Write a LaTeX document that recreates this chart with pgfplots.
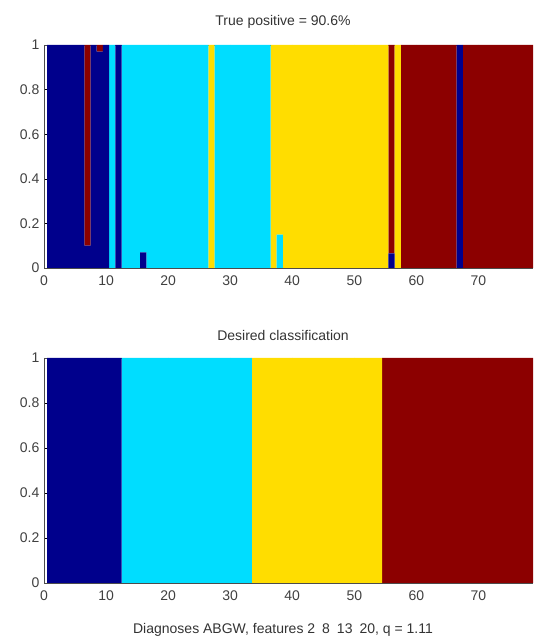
\documentclass[border=0pt]{standalone}
\usepackage{fontspec}
\setmainfont{Liberation Sans}
\usepackage{pgfplots}
\usepackage{pgfplotstable}
\pgfplotsset{compat=1.18}

\definecolor{jblue}{HTML}{00008C}
\definecolor{jcyan}{HTML}{00DDFF}
\definecolor{jyellow}{HTML}{FFDD00}
\definecolor{jred}{HTML}{8C0000}

% memberships per sample: blue, cyan, yellow, red
\pgfplotstableread{
x  b     c     y     r
1  1     0     0     0
2  1     0     0     0
3  1     0     0     0
4  1     0     0     0
5  1     0     0     0
6  1     0     0     0
7  0.1   0     0     0.9
8  1     0     0     0
9  0.97  0     0     0.03
10 1     0     0     0
11 0     1     0     0
12 1     0     0     0
13 0     1     0     0
14 0     1     0     0
15 0     1     0     0
16 0.07  0.93  0     0
17 0     1     0     0
18 0     1     0     0
19 0     1     0     0
20 0     1     0     0
21 0     1     0     0
22 0     1     0     0
23 0     1     0     0
24 0     1     0     0
25 0     1     0     0
26 0     1     0     0
27 0     0     1     0
28 0     1     0     0
29 0     1     0     0
30 0     1     0     0
31 0     1     0     0
32 0     1     0     0
33 0     1     0     0
34 0     1     0     0
35 0     1     0     0
36 0     1     0     0
37 0     0     1     0
38 0     0.15  0.85  0
39 0     0     1     0
40 0     0     1     0
41 0     0     1     0
42 0     0     1     0
43 0     0     1     0
44 0     0     1     0
45 0     0     1     0
46 0     0     1     0
47 0     0     1     0
48 0     0     1     0
49 0     0     1     0
50 0     0     1     0
51 0     0     1     0
52 0     0     1     0
53 0     0     1     0
54 0     0     1     0
55 0     0     1     0
56 0.065 0     0     0.935
57 0     0     1     0
58 0     0     0     1
59 0     0     0     1
60 0     0     0     1
61 0     0     0     1
62 0     0     0     1
63 0     0     0     1
64 0     0     0     1
65 0     0     0     1
66 0     0     0     1
67 1     0     0     0
68 0     0     0     1
69 0     0     0     1
70 0     0     0     1
71 0     0     0     1
72 0     0     0     1
73 0     0     0     1
74 0     0     0     1
75 0     0     0     1
76 0     0     0     1
77 0     0     0     1
78 0     0     0     1
79 0     0     0     1
80 0     0     0     1
}\predicted

% desired classes: blue 1-12, cyan 13-33, yellow 34-54, red 55-80
\pgfplotstableread{
x  b  c  y  r
1  1  0  0  0
2  1  0  0  0
3  1  0  0  0
4  1  0  0  0
5  1  0  0  0
6  1  0  0  0
7  1  0  0  0
8  1  0  0  0
9  1  0  0  0
10 1  0  0  0
11 1  0  0  0
12 1  0  0  0
13 0  1  0  0
14 0  1  0  0
15 0  1  0  0
16 0  1  0  0
17 0  1  0  0
18 0  1  0  0
19 0  1  0  0
20 0  1  0  0
21 0  1  0  0
22 0  1  0  0
23 0  1  0  0
24 0  1  0  0
25 0  1  0  0
26 0  1  0  0
27 0  1  0  0
28 0  1  0  0
29 0  1  0  0
30 0  1  0  0
31 0  1  0  0
32 0  1  0  0
33 0  1  0  0
34 0  0  1  0
35 0  0  1  0
36 0  0  1  0
37 0  0  1  0
38 0  0  1  0
39 0  0  1  0
40 0  0  1  0
41 0  0  1  0
42 0  0  1  0
43 0  0  1  0
44 0  0  1  0
45 0  0  1  0
46 0  0  1  0
47 0  0  1  0
48 0  0  1  0
49 0  0  1  0
50 0  0  1  0
51 0  0  1  0
52 0  0  1  0
53 0  0  1  0
54 0  0  1  0
55 0  0  0  1
56 0  0  0  1
57 0  0  0  1
58 0  0  0  1
59 0  0  0  1
60 0  0  0  1
61 0  0  0  1
62 0  0  0  1
63 0  0  0  1
64 0  0  0  1
65 0  0  0  1
66 0  0  0  1
67 0  0  0  1
68 0  0  0  1
69 0  0  0  1
70 0  0  0  1
71 0  0  0  1
72 0  0  0  1
73 0  0  0  1
74 0  0  0  1
75 0  0  0  1
76 0  0  0  1
77 0  0  0  1
78 0  0  0  1
79 0  0  0  1
80 0  0  0  1
}\desired

\pgfplotsset{
  classbars/.style={
    scale only axis,
    width=366.75pt,
    xmin=0, xmax=78.8,
    ymin=0, ymax=1,
    axis x line*=box,
    axis y line*=left,
    ybar stacked,
    bar width=1,
    xtick={0,10,...,70},
    ytick={0,0.2,0.4,0.6,0.8,1},
    tick align=inside,
    major tick length=3pt,
    tick style={black, thin},
    axis line style={black!70},
    ticklabel style={font=\fontsize{10.5}{12}\selectfont, text=black!75},
    xticklabel style={yshift=-2pt},
    /pgf/number format/assume math mode=true,
    clip=true,
  },
}

\begin{document}
\begin{tikzpicture}
\useasboundingbox (0,0) rectangle (399.75pt,479.25pt);

\begin{axis}[classbars, height=167.25pt, at={(33pt,278.25pt)}, anchor=south west]
\addplot[draw=none, fill=jblue] table[x=x, y=b] {\predicted};
\addplot[draw=none, fill=jcyan] table[x=x, y=c] {\predicted};
\addplot[draw=none, fill=jyellow] table[x=x, y=y] {\predicted};
\addplot[draw=none, fill=jred] table[x=x, y=r] {\predicted};
\end{axis}

\begin{axis}[classbars, height=168.75pt, at={(33pt,42pt)}, anchor=south west]
\addplot[draw=none, fill=jblue] table[x=x, y=b] {\desired};
\addplot[draw=none, fill=jcyan] table[x=x, y=c] {\desired};
\addplot[draw=none, fill=jyellow] table[x=x, y=y] {\desired};
\addplot[draw=none, fill=jred] table[x=x, y=r] {\desired};
\end{axis}

\node[font=\fontsize{10.5}{12}\selectfont, text=black!80] at (212.25pt,463pt) {True positive = 90.6\%};
\node[font=\fontsize{10.5}{12}\selectfont, text=black!80] at (212.25pt,228pt) {Desired classification};
\node[font=\fontsize{10.5}{12}\selectfont, text=black!80] at (212.25pt,7pt) {Diagnoses ABGW, features 2\enspace 8\enspace 13\enspace 20, q = 1.11};
\end{tikzpicture}
\end{document}
